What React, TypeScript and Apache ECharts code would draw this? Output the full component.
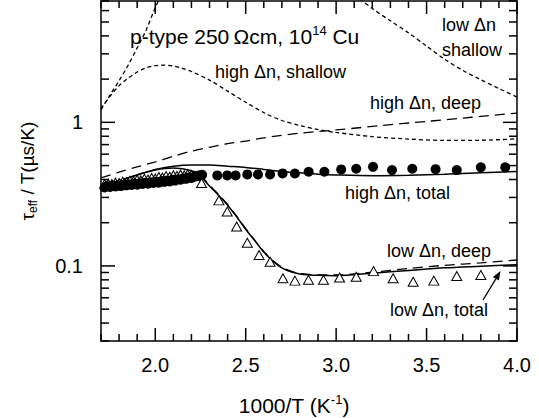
import React, { useEffect, useRef } from "react";
import * as echarts from "echarts";

const FONT = "'Liberation Sans', Arial, Helvetica, sans-serif";

const X_MIN = 1.7;
const X_MAX = 4.0;
const Y_MIN = 0.03;
const Y_MAX = 7;
const xMajorTicks = [2.0, 2.5, 3.0, 3.5, 4.0];
const xMinorTicks = [1.7, 1.8, 1.9, 2.1, 2.2, 2.3, 2.4, 2.6, 2.7, 2.8, 2.9, 3.1, 3.2, 3.3, 3.4, 3.6, 3.7, 3.8, 3.9];
const yMajorTicks = [0.1, 1];
const yMinorTicks = [0.03, 0.04, 0.05, 0.06, 0.07, 0.08, 0.09, 0.2, 0.3, 0.4, 0.5, 0.6, 0.7, 0.8, 0.9, 2, 3, 4, 5, 6, 7];

const highDnMeasured: [number, number][] = [
  [1.72, 0.352], [1.735, 0.36], [1.75, 0.355], [1.765, 0.362], [1.78, 0.358], [1.795, 0.366],
  [1.81, 0.36], [1.825, 0.368], [1.84, 0.364], [1.855, 0.37], [1.87, 0.366], [1.885, 0.374],
  [1.9, 0.368], [1.915, 0.377], [1.93, 0.372], [1.945, 0.38], [1.96, 0.374], [1.975, 0.383],
  [1.99, 0.378], [2.005, 0.386], [2.02, 0.38], [2.035, 0.39], [2.05, 0.385], [2.065, 0.394],
  [2.08, 0.388], [2.095, 0.398], [2.11, 0.393], [2.125, 0.402], [2.14, 0.398], [2.155, 0.408],
  [2.17, 0.404], [2.185, 0.413], [2.2, 0.41], [2.215, 0.418], [2.23, 0.422], [2.245, 0.428],
  [2.259, 0.431], [2.343, 0.427], [2.398, 0.427], [2.444, 0.427], [2.509, 0.434], [2.568, 0.434],
  [2.635, 0.434], [2.704, 0.441], [2.772, 0.44], [2.848, 0.453], [2.935, 0.453], [3.028, 0.47],
  [3.111, 0.475], [3.204, 0.49], [3.309, 0.465], [3.421, 0.475], [3.55, 0.472], [3.667, 0.465],
  [3.8, 0.486], [3.935, 0.486],
];

const lowDnMeasured: [number, number][] = [
  [1.72, 0.37], [1.74, 0.375], [1.76, 0.372], [1.78, 0.38], [1.8, 0.378], [1.82, 0.386],
  [1.84, 0.383], [1.86, 0.392], [1.88, 0.388], [1.9, 0.398], [1.92, 0.394], [1.94, 0.404],
  [1.96, 0.4], [1.98, 0.41], [2.0, 0.406], [2.02, 0.416], [2.04, 0.412], [2.06, 0.422],
  [2.08, 0.418], [2.1, 0.428], [2.12, 0.424], [2.14, 0.432], [2.16, 0.428], [2.18, 0.435],
  [2.2, 0.43], [2.22, 0.425],
  [2.256, 0.378], [2.352, 0.286], [2.398, 0.239], [2.45, 0.188], [2.509, 0.145], [2.574, 0.119],
  [2.635, 0.107], [2.706, 0.082], [2.772, 0.079], [2.847, 0.08], [2.93, 0.08], [3.019, 0.083],
  [3.111, 0.084], [3.207, 0.092], [3.315, 0.082], [3.426, 0.0775], [3.54, 0.079], [3.667, 0.085],
  [3.8, 0.0865],
];

const highShallow: [number, number][] = [
  [1.7, 1.25], [1.75, 1.52], [1.8, 1.8], [1.85, 2.03], [1.9, 2.24], [1.95, 2.4], [2.0, 2.48],
  [2.05, 2.5], [2.1, 2.47], [2.15, 2.38], [2.2, 2.26], [2.3, 1.97], [2.4, 1.65], [2.5, 1.38],
  [2.6, 1.17], [2.7, 1.03], [2.8, 0.95], [2.9, 0.89], [3.0, 0.85], [3.2, 0.795], [3.4, 0.765],
  [3.6, 0.748], [3.8, 0.75], [4.0, 0.768],
];
const lowShallowRise: [number, number][] = [
  [1.7, 1.22], [1.75, 1.55], [1.8, 1.95], [1.85, 2.5], [1.9, 3.3], [1.95, 4.4], [2.0, 6.3], [2.05, 8.5],
];
const lowShallowFall: [number, number][] = [
  [3.1, 7.8], [3.2, 6.2], [3.3, 5.1], [3.4, 4.2], [3.5, 3.4], [3.6, 2.75], [3.7, 2.3], [3.8, 1.98],
  [3.9, 1.72], [4.0, 1.5],
];
const highDeep: [number, number][] = [
  [1.7, 0.41], [1.8, 0.45], [1.9, 0.49], [2.0, 0.53], [2.1, 0.58], [2.2, 0.63], [2.3, 0.67],
  [2.4, 0.71], [2.5, 0.74], [2.6, 0.78], [2.8, 0.84], [3.0, 0.885], [3.25, 0.95], [3.5, 1.015],
  [3.75, 1.085], [4.0, 1.16],
];
const lowDeep: [number, number][] = [
  [2.25, 0.43], [2.3, 0.365], [2.35, 0.315], [2.4, 0.268], [2.45, 0.222], [2.5, 0.182],
  [2.55, 0.151], [2.6, 0.126], [2.65, 0.109], [2.7, 0.098], [2.75, 0.092], [2.8, 0.0885],
  [2.9, 0.0865], [3.0, 0.0865], [3.2, 0.0905], [3.4, 0.096], [3.6, 0.101], [3.8, 0.105], [4.0, 0.11],
];
const highTotal: [number, number][] = [
  [1.7, 0.335], [1.8, 0.39], [1.9, 0.43], [2.0, 0.47], [2.1, 0.495], [2.2, 0.505], [2.3, 0.505],
  [2.4, 0.495], [2.5, 0.485], [2.6, 0.47], [2.7, 0.455], [2.8, 0.445], [2.9, 0.435], [3.0, 0.43],
  [3.2, 0.425], [3.4, 0.428], [3.6, 0.435], [3.8, 0.445], [4.0, 0.455],
];
const lowTotal: [number, number][] = [
  [1.7, 0.335], [1.8, 0.39], [1.9, 0.43], [2.0, 0.465], [2.1, 0.48], [2.2, 0.46], [2.25, 0.42],
  [2.3, 0.36], [2.35, 0.31], [2.4, 0.265], [2.45, 0.22], [2.5, 0.18], [2.55, 0.15], [2.6, 0.125],
  [2.65, 0.108], [2.7, 0.097], [2.75, 0.091], [2.8, 0.088], [2.9, 0.086], [3.0, 0.0855],
  [3.2, 0.089], [3.4, 0.093], [3.6, 0.097], [3.8, 0.0995], [4.0, 0.102],
];

const BLACK = "#000";
const lineBase = { color: BLACK, width: 1.5 };
const TICK_W = 1.5;

function xAxisDef(position: "bottom" | "top", label: boolean, extra: any = {}) {
  return {
    type: "value",
    position,
    min: X_MIN,
    max: X_MAX,
    splitLine: { show: false },
    axisLine: { show: true, onZero: false, lineStyle: lineBase },
    axisTick: { show: false },
    axisLabel: label
      ? { show: true, customValues: xMajorTicks, formatter: (v: number) => v.toFixed(1), fontSize: 20, color: BLACK, fontFamily: FONT, margin: 14 }
      : { show: false },
    ...extra,
  };
}

function yAxisDef(position: "left" | "right", label: boolean, extra: any = {}) {
  return {
    type: "log",
    logBase: 10,
    position,
    min: Y_MIN,
    max: Y_MAX,
    splitLine: { show: false },
    axisLine: { show: true, onZero: false, lineStyle: lineBase },
    axisTick: { show: false },
    axisLabel: label
      ? { show: true, customValues: yMajorTicks, formatter: (v: number) => String(v), fontSize: 20, color: BLACK, fontFamily: FONT, margin: 18 }
      : { show: false },
    ...extra,
  };
}

function lineSeries(name: string, data: [number, number][], dash: any) {
  return {
    name,
    type: "line",
    data,
    showSymbol: false,
    symbol: "none",
    smooth: 0.3,
    clip: true,
    lineStyle: { color: BLACK, width: dash === "solid" ? 1.5 : 1.3, type: dash },
    z: 2,
  };
}

function anno(text: string, x: number, y: number) {
  return {
    type: "text",
    x,
    y,
    z: 100,
    style: { text, fill: BLACK, font: `18px ${FONT}`, textAlign: "left", textVerticalAlign: "middle" },
  };
}

const annotations: any[] = [
  {
    type: "text",
    x: 130,
    y: 36,
    z: 100,
    style: {
      text: "{n|p-type 250\u2009\u03a9cm, 10}{sup|14}{n| Cu}",
      textAlign: "left",
      textVerticalAlign: "middle",
      rich: {
        n: { fontSize: 21, fontFamily: FONT, fill: BLACK, lineHeight: 24 },
        sup: { fontSize: 13, fontFamily: FONT, fill: BLACK, lineHeight: 12, verticalAlign: "top" },
      },
    },
  },
  anno("high \u0394n, shallow", 215, 72),
  anno("low \u0394n", 442, 25),
  anno("shallow", 442, 50),
  anno("high \u0394n, deep", 370, 103),
  anno("high \u0394n, total", 345, 193),
  anno("low \u0394n, deep", 387, 251),
  anno("low \u0394n, total", 390, 310),
  { type: "line", z: 100, shape: { x1: 483, y1: 300, x2: 496, y2: 278.7 }, style: { stroke: BLACK, lineWidth: 1.3 } },
  { type: "polygon", z: 100, shape: { points: [[500.5, 271], [498.9, 280.5], [492.9, 276.9]] }, style: { fill: BLACK } },
];

const option: any = {
  animation: false,
  backgroundColor: "#fff",
  grid: { left: 101, right: 22, top: 1, bottom: 77, containLabel: false, outerBoundsMode: "none" },
  xAxis: [
    xAxisDef("bottom", true, {
      name: "{n|1000/T (K}{sup|-1}{n|)}",
      nameLocation: "middle",
      nameGap: 52,
      nameTextStyle: {
        padding: [0, 30, 0, 0],
        rich: {
          n: { fontSize: 21, fontFamily: FONT, color: BLACK, lineHeight: 24 },
          sup: { fontSize: 13, fontFamily: FONT, color: BLACK, lineHeight: 14, verticalAlign: "top" },
        },
      },
    }),
    xAxisDef("top", false),
  ],
  yAxis: [
    yAxisDef("left", true, {
      name: "{n|\u03c4}{s|eff}{n| / T(\u00b5s/K)}",
      nameLocation: "middle",
      nameGap: 62,
      nameRotate: 90,
      nameTextStyle: {
        rich: {
          n: { fontSize: 19, fontFamily: FONT, color: BLACK, lineHeight: 24 },
          s: { fontSize: 12, fontFamily: FONT, color: BLACK, lineHeight: 12, verticalAlign: "bottom" },
        },
      },
    }),
    yAxisDef("right", false),
  ],
  series: [
    lineSeries("high \u0394n, shallow", highShallow, [4, 3]),
    lineSeries("low \u0394n, shallow", lowShallowRise, [4, 3]),
    lineSeries("low \u0394n, shallow ", lowShallowFall, [4, 3]),
    lineSeries("high \u0394n, deep", highDeep, [10, 6]),
    lineSeries("low \u0394n, deep", lowDeep, [10, 6]),
    lineSeries("high \u0394n, total", highTotal, "solid"),
    lineSeries("low \u0394n, total", lowTotal, "solid"),
    {
      name: "low \u0394n measured",
      type: "scatter",
      data: lowDnMeasured,
      symbol: "triangle",
      symbolSize: [10, 9],
      itemStyle: { color: "#fff", borderColor: BLACK, borderWidth: 1, opacity: 1 },
      z: 3,
    },
    {
      name: "high \u0394n measured",
      type: "scatter",
      data: highDnMeasured,
      symbol: "circle",
      symbolSize: 10,
      itemStyle: { color: BLACK, opacity: 1 },
      z: 4,
    },
  ],
};

// Inward tick marks at positions converted through the chart's own axis scales
function buildTicks(chart: echarts.ECharts): any[] {
  const px = (x: number, y: number) => chart.convertToPixel({ gridIndex: 0 } as any, [x, y]) as number[];
  const els: any[] = [];
  const mk = (x1: number, y1: number, x2: number, y2: number) => ({
    type: "line",
    z: 100,
    shape: { x1, y1, x2, y2 },
    style: { stroke: BLACK, lineWidth: TICK_W },
  });
  const addX = (vals: number[], len: number) => {
    vals.forEach((v) => {
      const b = px(v, Y_MIN);
      const t = px(v, Y_MAX);
      els.push(mk(b[0], b[1], b[0], b[1] - len));
      els.push(mk(t[0], t[1], t[0], t[1] + len));
    });
  };
  const addY = (vals: number[], len: number) => {
    vals.forEach((v) => {
      const l = px(X_MIN, v);
      const r = px(X_MAX, v);
      els.push(mk(l[0], l[1], l[0] + len, l[1]));
      els.push(mk(r[0], r[1], r[0] - len, r[1]));
    });
  };
  addX(xMajorTicks, 13);
  addX(xMinorTicks, 7);
  addY(yMajorTicks, 14);
  addY(yMinorTicks, 8);
  return els;
}

export default function App() {
  const ref = useRef<HTMLDivElement>(null);
  useEffect(() => {
    const chart = echarts.init(ref.current!, null, { renderer: "svg" });
    chart.setOption(option);
    let ticks: any[] = [];
    try {
      ticks = buildTicks(chart);
    } catch (e) {
      ticks = [];
    }
    chart.setOption({ graphic: { elements: [...annotations, ...ticks] } });
    return () => chart.dispose();
  }, []);
  return (
    <div
      ref={ref}
      style={{ position: "fixed", left: 0, top: 0, width: 539, height: 418, background: "#fff" }}
    />
  );
}
